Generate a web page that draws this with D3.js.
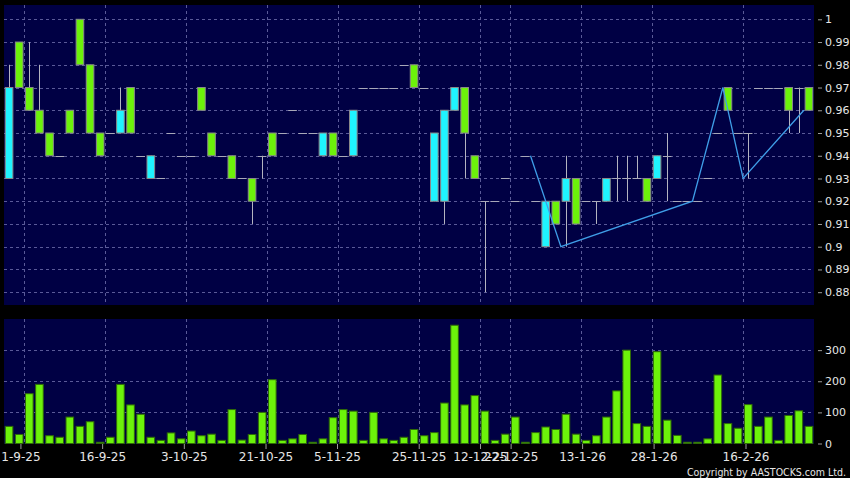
<!DOCTYPE html>
<html>
<head>
<meta charset="utf-8">
<script src="https://cdn.jsdelivr.net/npm/d3@7/dist/d3.min.js"></script>
<style>
  body { margin: 0; background: #000; }
  svg { display: block; }
  .axis text { fill: #e6e6e6; font-family: "DejaVu Sans", sans-serif; }
  .axis line { stroke: #9a9a9a; }
  .axis path { display: none; }
</style>
</head>
<body>
<div id="chart"></div>
<script>
// daily candles, oldest first
var opens  = [0.93,0.99,0.97,0.96,0.95,0.94,0.96,1.00,0.98,0.95,
              0.95,0.95,0.97,0.94,0.93,0.93,0.95,0.94,0.94,0.97,
              0.95,0.94,0.94,0.93,0.93,0.94,0.95,0.95,0.96,0.95,
              0.95,0.94,0.95,0.94,0.94,0.97,0.97,0.97,0.97,0.98,
              0.98,0.97,0.92,0.92,0.96,0.97,0.94,0.92,0.92,0.93,
              0.92,0.94,0.92,0.90,0.92,0.92,0.93,0.92,0.92,0.92,
              0.93,0.93,0.93,0.93,0.93,0.94,0.92,0.92,0.92,0.93,
              0.95,0.97,0.95,0.95,0.97,0.97,0.97,0.97,0.97,0.97];
var highs  = [0.98,0.99,0.99,0.98,0.95,0.94,0.96,1.00,0.98,0.95,
              0.95,0.97,0.97,0.94,0.94,0.93,0.95,0.94,0.94,0.97,
              0.95,0.94,0.94,0.93,0.93,0.94,0.95,0.95,0.96,0.95,
              0.95,0.95,0.95,0.94,0.96,0.97,0.97,0.97,0.97,0.98,
              0.98,0.97,0.95,0.96,0.97,0.97,0.94,0.92,0.92,0.93,
              0.92,0.94,0.92,0.92,0.92,0.94,0.93,0.92,0.92,0.93,
              0.94,0.94,0.94,0.93,0.94,0.95,0.92,0.92,0.92,0.93,
              0.95,0.97,0.95,0.95,0.97,0.97,0.97,0.97,0.97,0.97];
var lows   = [0.93,0.97,0.96,0.95,0.94,0.94,0.95,0.98,0.95,0.94,
              0.95,0.95,0.95,0.94,0.93,0.93,0.95,0.94,0.94,0.96,
              0.94,0.94,0.93,0.93,0.91,0.93,0.94,0.95,0.96,0.95,
              0.95,0.94,0.94,0.94,0.94,0.97,0.97,0.97,0.97,0.98,
              0.97,0.97,0.92,0.91,0.96,0.93,0.93,0.88,0.92,0.93,
              0.92,0.94,0.92,0.90,0.91,0.90,0.91,0.92,0.91,0.92,
              0.92,0.92,0.93,0.92,0.93,0.92,0.92,0.92,0.92,0.93,
              0.95,0.96,0.95,0.93,0.97,0.97,0.97,0.95,0.95,0.96];
var closes = [0.97,0.97,0.96,0.95,0.94,0.94,0.95,0.98,0.95,0.94,
              0.95,0.96,0.95,0.94,0.94,0.93,0.95,0.94,0.94,0.96,
              0.94,0.94,0.93,0.93,0.92,0.94,0.94,0.95,0.96,0.95,
              0.95,0.95,0.94,0.94,0.96,0.97,0.97,0.97,0.97,0.98,
              0.97,0.97,0.95,0.96,0.97,0.95,0.93,0.92,0.92,0.93,
              0.92,0.94,0.92,0.92,0.91,0.93,0.91,0.92,0.92,0.93,
              0.93,0.93,0.93,0.92,0.94,0.94,0.92,0.92,0.92,0.93,
              0.95,0.96,0.95,0.95,0.97,0.97,0.97,0.96,0.97,0.96];
var volumes = [55,29,160,190,25,20,85,55,70,4,
               20,190,124,94,20,10,34,15,40,25,
               30,10,109,11,29,100,205,10,15,29,
               4,15,83,109,104,10,100,15,10,20,
               45,25,35,130,380,124,154,104,10,30,
               85,4,35,53,45,94,30,10,25,85,
               169,300,64,55,295,75,26,4,4,15,
               220,64,49,125,55,85,10,90,105,55];

// overlay line (bar index, price)
var lineIdx = [52, 55, 68, 71, 73, 79];
var lineVal = [0.94, 0.90, 0.92, 0.97, 0.93, 0.96];

// x axis labels
var dateIdx = [2, 10, 18, 26, 33, 41, 47, 50, 57, 64, 73];
var dateLabels = ['1-9-25', '16-9-25', '3-10-25', '21-10-25', '5-11-25', '25-11-25',
                  '12-12-25', '22-12-25', '13-1-26', '28-1-26', '16-2-26'];

var priceTicks = [0.88, 0.89, 0.90, 0.91, 0.92, 0.93, 0.94, 0.95, 0.96, 0.97, 0.98, 0.99, 1.00];
var volTicks = [0, 100, 200, 300];

var frame = { width: 850, height: 478 },
  plot = { left: 4, right: 814 },
  pricePanel = { top: 5, bottom: 305 },
  volPanel = { top: 319, bottom: 444 },
  bg = '#000044',
  gridColor = '#5a5a98';

var svg = d3.select('#chart').append('svg')
  .attr('width', frame.width)
  .attr('height', frame.height)
  .style('background', '#000');

var x = d3.scaleBand()
  .domain(d3.range(volumes.length))
  .range([plot.left, plot.right])
  .paddingInner(0.15)
  .paddingOuter(0.075);

// left edge of a bar's slot (grid lines + overlay line sit here)
var slot = function (i) {
  return x(i) - x.step() * x.paddingInner() / 2;
};

// label positions
var xt = d3.scaleLinear()
  .domain([0, volumes.length])
  .range([0, 817]);

var y = d3.scaleLinear()
  .domain([0.88, 1.00])
  .range([292.2, 19.3]);

var yVol = d3.scaleLinear()
  .domain([0, 400])
  .range([volPanel.bottom - 0.5, volPanel.top]);

// panels
svg.append('rect')
  .attr('x', plot.left).attr('y', pricePanel.top)
  .attr('width', plot.right - plot.left)
  .attr('height', pricePanel.bottom - pricePanel.top)
  .attr('fill', bg);

svg.append('rect')
  .attr('x', plot.left).attr('y', volPanel.top)
  .attr('width', plot.right - plot.left)
  .attr('height', volPanel.bottom - volPanel.top)
  .attr('fill', bg);

var grid = svg.append('g')
  .attr('stroke', gridColor)
  .attr('stroke-dasharray', '3,3')
  .attr('stroke-width', 1);

grid.selectAll('.hp')
  .data(priceTicks)
  .enter().append('line')
  .attr('x1', plot.left).attr('x2', plot.right)
  .attr('y1', function (d) { return Math.round(y(d)) + 0.5; })
  .attr('y2', function (d) { return Math.round(y(d)) + 0.5; });

grid.selectAll('.hv')
  .data(volTicks.slice(1))
  .enter().append('line')
  .attr('x1', plot.left).attr('x2', plot.right)
  .attr('y1', function (d) { return Math.round(yVol(d)) + 0.5; })
  .attr('y2', function (d) { return Math.round(yVol(d)) + 0.5; });

[pricePanel, volPanel].forEach(function (p) {
  grid.selectAll(null)
    .data(dateIdx)
    .enter().append('line')
    .attr('x1', function (d) { return Math.round(slot(d)) + 0.5; })
    .attr('x2', function (d) { return Math.round(slot(d)) + 0.5; })
    .attr('y1', p.top).attr('y2', p.bottom);
});

//volume bars
svg.append('g').selectAll('rect')
  .data(volumes)
  .enter().append('rect')
  .attr('x', function (d, i) { return x(i) + 0.5; })
  .attr('y', function (d) { return yVol(d); })
  .attr('width', x.bandwidth() - 1)
  .attr('height', function (d) { return yVol(0) - yVol(d); })
  .attr('fill', '#6cf20a')
  .attr('stroke', '#2f6a08')
  .attr('stroke-width', 1);

//candles
var candles = d3.range(opens.length).map(function (i) {
  return { i: i, o: opens[i], h: highs[i], l: lows[i], c: closes[i] };
});

var cg = svg.append('g');

cg.selectAll('.wick')
  .data(candles.filter(function (d) { return d.h > d.l; }))
  .enter().append('line')
  .attr('x1', function (d) { return Math.round(x(d.i) + x.bandwidth() / 2) + 0.5; })
  .attr('x2', function (d) { return Math.round(x(d.i) + x.bandwidth() / 2) + 0.5; })
  .attr('y1', function (d) { return y(d.h); })
  .attr('y2', function (d) { return y(d.l); })
  .attr('stroke', '#b4b4c0')
  .attr('stroke-width', 1);

cg.selectAll('.doji')
  .data(candles.filter(function (d) { return d.o === d.c; }))
  .enter().append('line')
  .attr('x1', function (d) { return x(d.i); })
  .attr('x2', function (d) { return x(d.i) + x.bandwidth(); })
  .attr('y1', function (d) { return Math.round(y(d.o)) + 0.5; })
  .attr('y2', function (d) { return Math.round(y(d.o)) + 0.5; })
  .attr('stroke', '#a8a8b8')
  .attr('stroke-width', 1);

cg.selectAll('.body')
  .data(candles.filter(function (d) { return d.o !== d.c; }))
  .enter().append('rect')
  .attr('x', function (d) { return x(d.i) + 0.5; })
  .attr('y', function (d) { return y(Math.max(d.o, d.c)); })
  .attr('width', x.bandwidth() - 1)
  .attr('height', function (d) { return y(Math.min(d.o, d.c)) - y(Math.max(d.o, d.c)); })
  .attr('fill', function (d) { return d.c > d.o ? '#1ff4ff' : '#6cf20a'; })
  .attr('stroke', '#8a8a8a')
  .attr('stroke-width', 1);

//overlay line
var overlay = d3.line()
  .x(function (d) { return slot(d); })
  .y(function (d, i) { return y(lineVal[i]); });

svg.append('path')
  .datum(lineIdx)
  .attr('d', overlay)
  .attr('fill', 'none')
  .attr('stroke', '#3f9ee8')
  .attr('stroke-width', 1.3);

//right axes
svg.append('g')
  .attr('class', 'axis')
  .attr('transform', 'translate(818,0)')
  .call(d3.axisRight(y)
    .tickValues(priceTicks)
    .tickSize(4)
    .tickPadding(3)
    .tickFormat(function (d) { return String(+d.toFixed(2)); }))
  .selectAll('text')
  .style('font-size', '11px');

svg.append('g')
  .attr('class', 'axis')
  .attr('transform', 'translate(818,0)')
  .call(d3.axisRight(yVol)
    .tickValues(volTicks)
    .tickSize(4)
    .tickPadding(3))
  .selectAll('text')
  .style('font-size', '11px');

//date axis
svg.append('g')
  .attr('class', 'axis')
  .attr('transform', 'translate(0,' + volPanel.bottom + ')')
  .call(d3.axisBottom(xt)
    .tickValues(dateIdx)
    .tickSize(5)
    .tickPadding(3)
    .tickFormat(function (d, i) { return dateLabels[i]; }))
  .selectAll('text')
  .style('font-size', '12px');

svg.append('text')
  .attr('x', 846)
  .attr('y', 476)
  .attr('text-anchor', 'end')
  .attr('fill', '#e6e6e6')
  .style('font-family', '"DejaVu Sans Condensed", "DejaVu Sans", sans-serif')
  .style('font-size', '10.5px')
  .text('Copyright by AASTOCKS.com Ltd.');
</script>
</body>
</html>
